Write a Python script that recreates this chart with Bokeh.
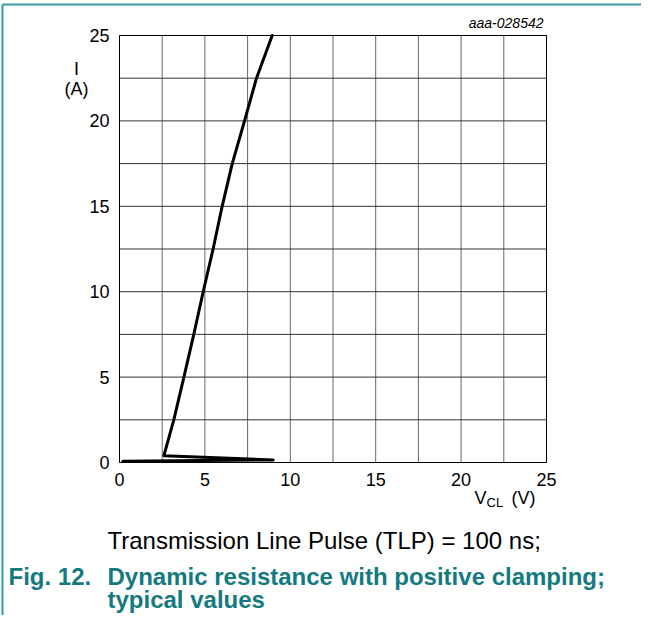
from bokeh.plotting import figure
from bokeh.models import Range1d
from bokeh.embed import file_html
from bokeh.resources import INLINE
from bokeh.core.properties import value

# Data
vcl = [0.2, 9.0, 2.6, 3.18, 3.77, 4.35, 4.9, 5.48, 6.01, 6.6, 7.32, 8.02, 8.94]
cur = [0.08, 0.15, 0.4, 2.5, 5.0, 7.5, 10.0, 12.5, 15.0, 17.5, 20.0, 22.5, 25.0]
x_ticks = [0, 5, 10, 15, 20, 25]
y_ticks = [0, 5, 10, 15, 20, 25]
grid_ticks = [0, 2.5, 5, 7.5, 10, 12.5, 15, 17.5, 20, 22.5, 25]
x_min, x_max, y_min, y_max = 0, 25, 0, 25

FONT = "Liberation Sans"
TEAL = "#147a80"
W, H = 641, 615
S = 427 / 25.0           # pixels per unit
LEFT, BASE = 119, 462    # canvas px of (0, 0)

p = figure(width=W, height=H, output_backend="svg", toolbar_location=None,
           x_range=Range1d(-LEFT / S, (W - LEFT) / S),
           y_range=Range1d(-(H - BASE) / S, BASE / S),
           min_border=0)
p.axis.visible = False
p.grid.visible = False
p.outline_line_color = None
p.background_fill_color = "white"
p.border_fill_color = "white"

# grid
p.segment(x0=grid_ticks, y0=[y_min] * len(grid_ticks), x1=grid_ticks, y1=[y_max] * len(grid_ticks),
          line_color="#666666", line_width=1)
p.segment(x0=[x_min] * len(grid_ticks), y0=grid_ticks, x1=[x_max] * len(grid_ticks), y1=grid_ticks,
          line_color="#333333", line_width=1)
p.quad(left=[x_min], right=[x_max], bottom=[y_min], top=[y_max], fill_color=None,
       line_color="black", line_width=1)

# tick labels
p.text(x=x_ticks, y=[y_min - 10 / S] * len(x_ticks), text=[str(t) for t in x_ticks],
       text_font=value(FONT), text_font_size="18px", text_align="center", text_baseline="top")
p.text(x=[x_min - 10 / S] * len(y_ticks), y=y_ticks, text=[str(t) for t in y_ticks],
       text_font=value(FONT), text_font_size="18px", text_align="right", text_baseline="middle")

# curve
p.line(vcl, cur, line_color="black", line_width=3, line_join="round", line_cap="round")

# helpers in picture pixels
def dx(px):
    return (px - LEFT) / S

def dy(py):
    return (BASE - py) / S

def lab(text, px, py, size, align="left", baseline="middle", style="normal", color="black"):
    p.text(x=[dx(px)], y=[dy(py)], text=[text], text_font=value(FONT),
           text_font_size=size, text_align=align, text_baseline=baseline,
           text_font_style=style, text_color=color)

lab("aaa-028542", 543, 22, "14px", align="right", style="italic")
lab("I", 76, 68, "18px", align="center")
lab("(A)", 76, 88, "18px", align="center")
lab("V", 474, 497, "18px")
lab("CL", 486, 502, "13px")
lab("(V)", 511, 497, "18px")
lab("Transmission Line Pulse (TLP) = 100 ns;", 107, 540, "24px")
lab("Fig. 12.", 8, 576, "24px", style="bold", color=TEAL)
lab("Dynamic resistance with positive clamping;", 107, 576, "24px", style="bold", color=TEAL)
lab("typical values", 107, 599, "24px", style="bold", color=TEAL)

# teal box edges (top and left)
p.segment(x0=[dx(2)], y0=[dy(4)], x1=[dx(W)], y1=[dy(4)], line_color="#2f9aa6", line_width=2)
p.segment(x0=[dx(2)], y0=[dy(4)], x1=[dx(2)], y1=[dy(H)], line_color="#2f9aa6", line_width=2)

open("out.html", "w").write(file_html(p, INLINE))
